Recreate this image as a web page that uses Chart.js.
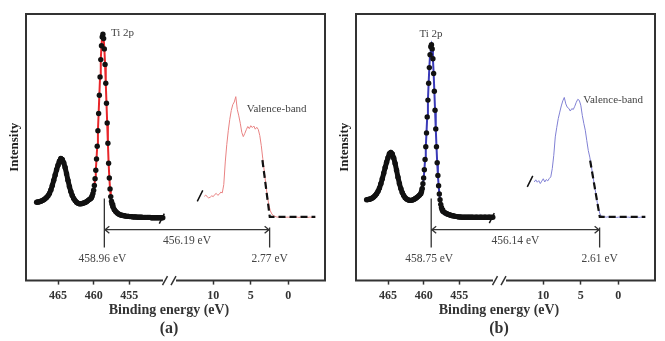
<!DOCTYPE html>
<html lang="en">
<head>
    <meta charset="UTF-8">
    <title>Ti 2p and valence-band XPS</title>
    <style>
        body { margin: 0; background: #fff; }
        .panel { position: absolute; top: 0; width: 330px; height: 341px; }
        #panelA { left: 0; }
        #panelB { left: 330px; }
    </style>
</head>
<body>
    <div class="panel" id="panelA"><canvas id="chartA" width="330" height="341"></canvas></div>
    <div class="panel" id="panelB"><canvas id="chartB" width="330" height="341"></canvas></div>

    <script src="https://cdn.jsdelivr.net/npm/chart.js"></script>
    <script>
        // Ti 2p region (binding energy, eV)
        const coreEnergy = [
            468.0, 467.8, 467.6, 467.4, 467.2, 467.0, 466.8, 466.6, 466.4, 466.2,
            466.0, 465.8, 465.6, 465.4, 465.2, 465.0, 464.8, 464.6, 464.4, 464.2,
            464.0, 463.8, 463.6, 463.4, 463.2, 463.0, 462.8, 462.6, 462.4, 462.2,
            462.0, 461.8, 461.6, 461.4, 461.2, 461.0, 460.8, 460.6, 460.4,
            460.3, 460.2, 460.1, 460.0, 459.9, 459.8, 459.7, 459.6, 459.5, 459.4,
            459.3, 459.2, 459.1, 459.0, 458.9, 458.8, 458.7, 458.6, 458.5, 458.4,
            458.3, 458.2, 458.1, 458.0, 457.9, 457.8, 457.7, 457.6, 457.5, 457.4, 457.3,
            457.1, 456.9, 456.7, 456.5, 456.3, 456.1, 455.9, 455.7, 455.5, 455.3,
            455.1, 454.9, 454.7, 454.5, 454.3, 454.1, 453.9, 453.7, 453.5, 453.3,
            453.1, 452.9, 452.7, 452.5, 452.3, 452.1, 451.9, 451.7, 451.5, 451.3,
            451.1, 450.9, 450.7, 450.5, 450.3
        ];
        const coreA = [
            29.4, 29.5, 29.6, 29.8, 30.0, 30.3, 30.7, 31.2, 31.8, 32.7,
            34.0, 35.7, 37.6, 39.6, 41.6, 43.3, 44.8, 45.8, 45.4, 44.2,
            42.4, 40.1, 37.6, 35.3, 33.4, 31.9, 30.8, 30.0, 29.4, 29.0,
            28.8, 28.8, 28.9, 29.1, 29.3, 29.6, 30.0, 30.4, 30.8,
            31.2, 31.8, 32.7, 33.9, 35.7, 38.2, 41.4, 45.6, 50.4, 56.2,
            62.7, 69.5, 76.4, 82.9, 88.1, 91.4, 92.4, 90.8, 86.9, 81.1,
            74.0, 66.5, 59.1, 51.5, 44.0, 38.5, 34.4, 31.5, 29.8, 28.6, 27.7,
            26.6, 25.9, 25.4, 25.0, 24.7, 24.5, 24.4, 24.3, 24.2, 24.1,
            24.1, 24.0, 24.0, 23.9, 23.9, 23.9, 23.8, 23.8, 23.8, 23.8,
            23.7, 23.7, 23.7, 23.7, 23.7, 23.7, 23.6, 23.6, 23.6, 23.6,
            23.6, 23.6, 23.6, 23.6, 23.6
        ];
        const coreB = [
            30.3, 30.4, 30.5, 30.7, 31.0, 31.4, 31.9, 32.6, 33.5, 34.7,
            36.3, 38.2, 40.3, 42.4, 44.4, 46.1, 47.6, 48.1, 47.5, 46.0,
            43.9, 41.4, 38.8, 36.4, 34.5, 33.0, 31.9, 31.1, 30.6, 30.3,
            30.1, 30.1, 30.2, 30.4, 30.7, 31.1, 31.5, 32.0, 32.6,
            33.4, 34.6, 36.3, 38.5, 41.6, 45.4, 50.2, 55.4, 61.4, 67.7,
            74.0, 79.9, 84.7, 87.7, 88.5, 86.9, 83.2, 77.7, 71.0, 63.9,
            56.9, 50.2, 44.2, 39.4, 35.6, 32.5, 30.3, 28.6, 27.4, 26.6, 26.0,
            25.6, 25.3, 25.0, 24.8, 24.6, 24.4, 24.3, 24.2, 24.1, 24.0,
            23.9, 23.9, 23.8, 23.8, 23.8, 23.8, 23.8, 23.8, 23.8, 23.8,
            23.8, 23.7, 23.8, 23.8, 23.7, 23.8, 23.8, 23.7, 23.8, 23.8,
            23.7, 23.8, 23.8, 23.7, 23.8
        ];

        // fitted Ti 2p3/2 component
        const fitEnergy = [
            460.3, 460.2, 460.1, 460.0, 459.9, 459.8, 459.7, 459.6, 459.5, 459.4,
            459.3, 459.2, 459.1, 459.0, 458.9, 458.8, 458.7, 458.6, 458.5, 458.4,
            458.3, 458.2, 458.1, 458.0, 457.9, 457.8, 457.7, 457.6, 457.5, 457.4, 457.3
        ];
        const fitA = [
            31.0, 31.6, 32.5, 33.7, 35.5, 38.0, 41.3, 45.5, 50.4, 56.3,
            62.8, 69.6, 76.5, 83.0, 88.2, 91.5, 92.5, 90.9, 87.0, 81.2,
            74.1, 66.6, 59.0, 51.4, 44.1, 38.6, 34.5, 31.6, 29.8, 28.6, 27.7
        ];
        const fitB = [
            33.3, 34.5, 36.2, 38.4, 41.5, 45.3, 50.1, 55.5, 61.5, 67.8,
            74.1, 80.0, 84.8, 87.8, 88.6, 87.0, 83.3, 77.8, 71.1, 64.0,
            57.0, 50.3, 44.3, 39.5, 35.7, 32.6, 30.4, 28.7, 27.5, 26.7, 26.1
        ];

        // valence-band region
        const vbEnergy = [
            11.2, 11.0, 10.8, 10.6, 10.4, 10.2, 10.0, 9.8, 9.6, 9.4,
            9.2, 9.0, 8.8, 8.6, 8.4, 8.2, 8.0, 7.8, 7.6, 7.4,
            7.2, 7.0, 6.8, 6.6, 6.4, 6.2, 6.0, 5.8, 5.6, 5.4,
            5.2, 5.0, 4.8, 4.6, 4.4, 4.2, 4.0, 3.8, 3.6, 3.4,
            3.2, 3.0, 2.8, 2.6, 2.4, 2.2, 2.0, 1.8, 1.6, 1.4,
            1.2, 1.0, 0.8, 0.6, 0.4, 0.2, 0.0, -0.2, -0.4, -0.6,
            -0.8, -1.0, -1.2, -1.4, -1.6, -1.8, -2.0, -2.2, -2.4, -2.6,
            -2.8, -3.0, -3.2, -3.4, -3.6
        ];
        const vbA = [
            31.6, 32.1, 31.4, 31.0, 31.3, 31.8, 31.5, 32.3, 32.7, 32.0,
            32.4, 33.2, 32.9, 36.0, 44.5, 51.0, 56.2, 60.5, 63.8, 66.0,
            67.0, 69.0, 64.2, 61.8, 59.0, 55.6, 54.0, 55.2, 56.6, 57.8,
            57.0, 58.1, 57.4, 58.0, 56.8, 57.5, 56.7, 54.4, 50.6, 45.7,
            41.0, 36.2, 31.7, 28.5, 26.2, 25.0, 24.4, 24.1, 23.9, 23.8,
            23.9, 23.7, 23.8, 23.8, 23.7, 23.8, 23.8, 23.7, 23.8, 23.8,
            23.7, 23.8, 23.8, 23.7, 23.8, 23.8, 23.7, 23.8, 23.8, 23.7,
            23.8, 23.8, 23.7, 23.8, 23.8
        ];
        const vbB = [
            37.0, 37.8, 36.9, 37.5, 36.4, 37.3, 38.2, 37.0, 37.9, 37.4,
            38.3, 38.9, 42.0, 47.0, 53.9, 57.5, 60.8, 63.2, 65.5, 67.4,
            68.7, 66.3, 65.0, 64.6, 63.6, 64.5, 64.2, 65.4, 66.9, 68.0,
            67.6, 65.8, 62.0, 59.0, 56.4, 52.5, 48.8, 46.3, 43.0, 39.5,
            36.0, 32.8, 29.2, 26.5, 24.6, 24.2, 24.0, 23.9, 23.8, 23.9,
            23.8, 23.8, 23.7, 23.8, 23.8, 23.7, 23.8, 23.8, 23.7, 23.8,
            23.8, 23.7, 23.8, 23.8, 23.7, 23.8, 23.8, 23.7, 23.8, 23.8,
            23.7, 23.8, 23.8, 23.7, 23.8
        ];

        // linear extrapolation of the leading edge (dashed)
        const edgeEnergyA = [3.45, 2.47, -3.6];
        const edgeA = [45.2, 23.9, 23.9];
        const edgeEnergyB = [3.75, 2.47, -3.6];
        const edgeB = [45.0, 23.9, 23.9];

        const coreTicks = [465, 460, 455];
        const vbTicks = [10, 5, 0];

        // annotation levels (intensity units)
        const arrowLevel = 19.1;
        const markBottom = 12.4;
        const coreMarkTop = 30.8;
        const vbMarkTop = 19.9;
        const gapLevel = 14.8;
        const valueLevel = 8.2;

        // main-peak window where the dots are shown apart (fit line visible)
        const peakWindow = [457.5, 460.2];

        Chart.defaults.font.family = '"Liberation Serif", serif';

        function toPoints(xs, ys) {
            return xs.map((x, i) => ({ x: x, y: ys[i] }));
        }

        function makeDecor(p) {
            return {
                id: 'decor',
                afterDraw(chart) {
                    const ctx = chart.ctx;
                    const area = chart.chartArea;
                    const xc = chart.scales.x1, xv = chart.scales.x2, ys = chart.scales.y;
                    const cut = xc.right;
                    ctx.save();

                    // frame, with the axis break on the bottom edge
                    ctx.strokeStyle = '#333';
                    ctx.lineWidth = 2;
                    ctx.beginPath();
                    ctx.moveTo(cut - 6, area.bottom);
                    ctx.lineTo(area.left, area.bottom);
                    ctx.lineTo(area.left, area.top);
                    ctx.lineTo(area.right, area.top);
                    ctx.lineTo(area.right, area.bottom);
                    ctx.lineTo(cut + 7, area.bottom);
                    ctx.stroke();
                    ctx.lineWidth = 1.5;
                    ctx.beginPath();
                    ctx.moveTo(cut - 6.5, area.bottom + 4.5); ctx.lineTo(cut - 1.5, area.bottom - 4.5);
                    ctx.moveTo(cut + 2, area.bottom + 4.5); ctx.lineTo(cut + 7, area.bottom - 4.5);
                    ctx.stroke();

                    // break marks at the ends of the two spectra
                    ctx.strokeStyle = '#111';
                    const n = coreEnergy.length - 1;
                    const ex = xc.getPixelForValue(coreEnergy[n]), ey = ys.getPixelForValue(p.core[n]);
                    const sx = xv.getPixelForValue(vbEnergy[0]), sy = ys.getPixelForValue(p.vb[0]);
                    ctx.beginPath();
                    ctx.moveTo(ex - 3.5, ey + 6); ctx.lineTo(ex + 1.5, ey - 4);
                    ctx.moveTo(sx - 7, sy + 5); ctx.lineTo(sx - 1.5, sy - 6);
                    ctx.stroke();

                    // markers and double arrow
                    const mx1 = xc.getPixelForValue(p.coreMark);
                    const mx2 = xv.getPixelForValue(p.vbMark);
                    const yA = ys.getPixelForValue(arrowLevel);
                    const yB = ys.getPixelForValue(markBottom);
                    ctx.strokeStyle = '#333';
                    ctx.lineWidth = 1.3;
                    ctx.beginPath();
                    ctx.moveTo(mx1, ys.getPixelForValue(coreMarkTop)); ctx.lineTo(mx1, yB);
                    ctx.moveTo(mx2, ys.getPixelForValue(vbMarkTop)); ctx.lineTo(mx2, yB);
                    ctx.moveTo(mx1, yA); ctx.lineTo(mx2, yA);
                    ctx.moveTo(mx1 + 5, yA - 3.5); ctx.lineTo(mx1 + 0.7, yA); ctx.lineTo(mx1 + 5, yA + 3.5);
                    ctx.moveTo(mx2 - 5, yA - 3.5); ctx.lineTo(mx2 - 0.7, yA); ctx.lineTo(mx2 - 5, yA + 3.5);
                    ctx.stroke();

                    // labels
                    ctx.fillStyle = '#444';
                    ctx.font = '11px "Liberation Serif"';
                    ctx.textBaseline = 'middle';
                    ctx.textAlign = p.tiAlign;
                    ctx.fillText('Ti 2p', xc.getPixelForValue(p.tiX), ys.getPixelForValue(p.tiY));
                    ctx.textAlign = 'left';
                    ctx.fillText('Valence-band', xv.getPixelForValue(p.vbLabelX), ys.getPixelForValue(p.vbLabelY));
                    ctx.textAlign = 'center';
                    ctx.font = '11.5px "Liberation Serif"';
                    ctx.fillText(p.coreText, mx1 - 2, ys.getPixelForValue(valueLevel));
                    ctx.fillText(p.vbText, mx2, ys.getPixelForValue(valueLevel));
                    ctx.fillText(p.gapText, (mx1 + mx2) / 2, ys.getPixelForValue(gapLevel));

                    // axis title and panel letter, centred on the break
                    ctx.fillStyle = '#333';
                    ctx.font = 'bold 14px "Liberation Serif"';
                    ctx.fillText('Binding energy (eV)', cut, area.bottom + 30);
                    ctx.font = 'bold 16px "Liberation Serif"';
                    ctx.fillText(p.letter, cut, area.bottom + 48);
                    ctx.restore();
                }
            };
        }

        function axisStyle(tickValues, extra) {
            return Object.assign({
                type: 'linear',
                position: 'bottom',
                stack: 'be',
                reverse: true,
                bounds: 'data',
                afterBuildTicks: scale => { scale.ticks = tickValues.map(v => ({ value: v })); },
                grid: { display: true, drawOnChartArea: false, drawTicks: true, tickLength: 4, tickColor: '#333', tickWidth: 1.5 },
                border: { display: false },
                ticks: { color: '#333', padding: 4, maxRotation: 0, autoSkip: false,
                         font: { family: '"Liberation Serif"', weight: 'bold', size: 12 } }
            }, extra);
        }

        function inPeak(c) {
            return c.p0.parsed.x <= peakWindow[1] && c.p1.parsed.x >= peakWindow[0];
        }

        function buildPanel(canvasId, p) {
            return new Chart(document.getElementById(canvasId), {
                type: 'line',
                data: {
                    datasets: [
                        { data: toPoints(coreEnergy, p.core), xAxisID: 'x1',
                          borderColor: '#111', borderWidth: 5, borderJoinStyle: 'round',
                          segment: { borderColor: c => inPeak(c) ? 'rgba(0,0,0,0)' : '#111' },
                          pointRadius: 2.7, pointBackgroundColor: '#111', pointBorderWidth: 0, order: 0 },
                        { data: toPoints(fitEnergy, p.fit), xAxisID: 'x1', borderColor: p.fitColor,
                          borderWidth: 2, pointRadius: 0, order: 1 },
                        { data: toPoints(vbEnergy, p.vb), xAxisID: 'x2', borderColor: p.vbColor,
                          borderWidth: 1, pointRadius: 0, order: 3 },
                        { data: toPoints(p.edgeX, p.edgeY), xAxisID: 'x2', borderColor: '#111',
                          borderWidth: 2.2, borderDash: [7, 4], pointRadius: 0, order: 2 }
                    ]
                },
                options: {
                    responsive: false,
                    animation: false,
                    events: [],
                    layout: { padding: { left: 2.4, top: 14, right: 5, bottom: 34 } },
                    plugins: { legend: { display: false }, tooltip: { enabled: false } },
                    scales: {
                        x1: axisStyle(coreTicks, { min: 449.43, max: 469.49, stackWeight: 143 }),
                        x2: axisStyle(vbTicks, { min: -4.89, max: 15.9, stackWeight: 156 }),
                        y: {
                            min: 0, max: 100,
                            ticks: { display: false },
                            grid: { display: false, drawTicks: false },
                            border: { display: false },
                            title: { display: true, text: 'Intensity', color: '#222',
                                     font: { family: '"Liberation Serif"', weight: 'bold', size: 13 },
                                     padding: { top: 4, bottom: 4 } }
                        }
                    }
                },
                plugins: [makeDecor(p)]
            });
        }

        buildPanel('chartA', {
            core: coreA, fit: fitA, vb: vbA, edgeX: edgeEnergyA, edgeY: edgeA,
            fitColor: '#e8262a', vbColor: '#e98383',
            coreMark: 458.5, vbMark: 2.49,
            coreText: '458.96 eV', vbText: '2.77 eV', gapText: '456.19 eV',
            tiX: 457.57, tiY: 92.8, tiAlign: 'left',
            vbLabelX: 5.55, vbLabelY: 64.5, letter: '(a)'
        });
        buildPanel('chartB', {
            core: coreB, fit: fitB, vb: vbB, edgeX: edgeEnergyB, edgeY: edgeB,
            fitColor: '#3a3ab8', vbColor: '#8080d4',
            coreMark: 458.94, vbMark: 2.49,
            coreText: '458.75 eV', vbText: '2.61 eV', gapText: '456.14 eV',
            tiX: 458.97, tiY: 92.4, tiAlign: 'center',
            vbLabelX: 4.67, vbLabelY: 67.7, letter: '(b)'
        });
    </script>
</body>
</html>
